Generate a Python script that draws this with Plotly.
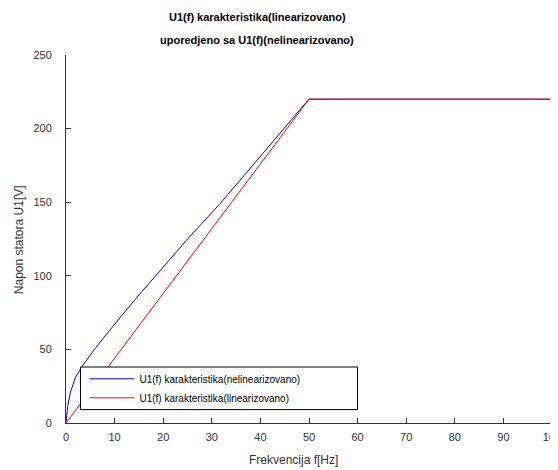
import plotly.graph_objects as go

# Nonlinear characteristic
freq_nl = [0, 0.17, 0.37, 0.92, 1.95, 3.33, 5.7, 9.0, 14.07, 24.75, 31.7, 50, 75, 100]
u_nl = [0, 6.4, 12, 21, 31, 38.5, 49.4, 63, 83.4, 124, 149, 220, 220, 220]

# Linearized characteristic
freq_lin = [0, 50, 100]
u_lin = [0, 220, 220]

x_ticks = [0, 10, 20, 30, 40, 50, 60, 70, 80, 90, 100]
y_ticks = [0, 50, 100, 150, 200, 250]

title_1 = "U1(f) karakteristika(linearizovano)"
title_2 = "uporedjeno sa U1(f)(nelinearizovano)"
x_label = "Frekvencija f[Hz]"
y_label = "Napon statora U1[V]"
name_nl = "U1(f) karakteristika(nelinearizovano)"
name_lin = "U1(f) karakteristika(linearizovano)"

FONT = "Liberation Sans, Arial, sans-serif"
OFF = 8  # page body margin
W, H = 558 - OFF, 470 - OFF
L, R, T, B = 65.5 - OFF, 5.7, 54.7 - OFF, 47.3

fig = go.Figure()
fig.add_trace(go.Scatter(x=freq_nl, y=u_nl, mode="lines", name=name_nl,
                         line=dict(color="#0000ff", width=1)))
fig.add_trace(go.Scatter(x=freq_lin, y=u_lin, mode="lines", name=name_lin,
                         line=dict(color="#ff0000", width=1)))

axis_common = dict(showgrid=False, zeroline=False, showline=True, linecolor="#333333",
                   linewidth=1, ticks="inside", ticklen=5, tickcolor="#333333",
                   tickfont=dict(family=FONT, size=11, color="#333333"), mirror=False,
                   ticklabeloverflow="allow")

fig.update_xaxes(range=[0, 100], tickvals=x_ticks, ticktext=[str(v) for v in x_ticks],
                 ticklabelstandoff=4, **axis_common)
fig.update_yaxes(range=[0, 250], tickvals=y_ticks, ticktext=[str(v) for v in y_ticks],
                 ticklabelstandoff=11, **axis_common)

pw = W - L - R
ph = H - T - B


def px(xa):
    return (xa - OFF - L) / pw


def py(ya):
    return (H - B - (ya - OFF)) / ph


annotations = [
    dict(text="<b>" + title_1 + "</b>", xref="paper", yref="paper",
         x=px(257), y=py(17), xanchor="center", yanchor="middle",
         showarrow=False, font=dict(family=FONT, size=11, color="#000000")),
    dict(text="<b>" + title_2 + "</b>", xref="paper", yref="paper",
         x=px(257), y=py(40), xanchor="center", yanchor="middle",
         showarrow=False, font=dict(family=FONT, size=11, color="#000000")),
    dict(text=x_label, xref="paper", yref="paper",
         x=px(293), y=py(460), xanchor="center", yanchor="middle",
         showarrow=False, font=dict(family=FONT, size=12, color="#333333")),
    dict(text=y_label, xref="paper", yref="paper", textangle=-90,
         x=px(18.3), y=py(239), xanchor="center", yanchor="middle",
         showarrow=False, font=dict(family=FONT, size=12, color="#333333")),
]

# legend frame
fig.add_shape(type="rect", xref="paper", yref="paper",
              x0=px(80), x1=px(357.5), y0=py(409.3), y1=py(366.7),
              fillcolor="white", line=dict(color="#000000", width=1), layer="above")

fig.update_layout(
    width=W, height=H,
    margin=dict(l=L, r=R, t=T, b=B, autoexpand=False),
    paper_bgcolor="white", plot_bgcolor="white",
    showlegend=True,
    legend=dict(x=px(84), y=py(364), xanchor="left", yanchor="top",
                bgcolor="rgba(0,0,0,0)", borderwidth=0,
                font=dict(family=FONT, size=10, color="#000000"),
                itemwidth=45, tracegroupgap=0),
    annotations=annotations,
)

fig.write_html("out.html")
